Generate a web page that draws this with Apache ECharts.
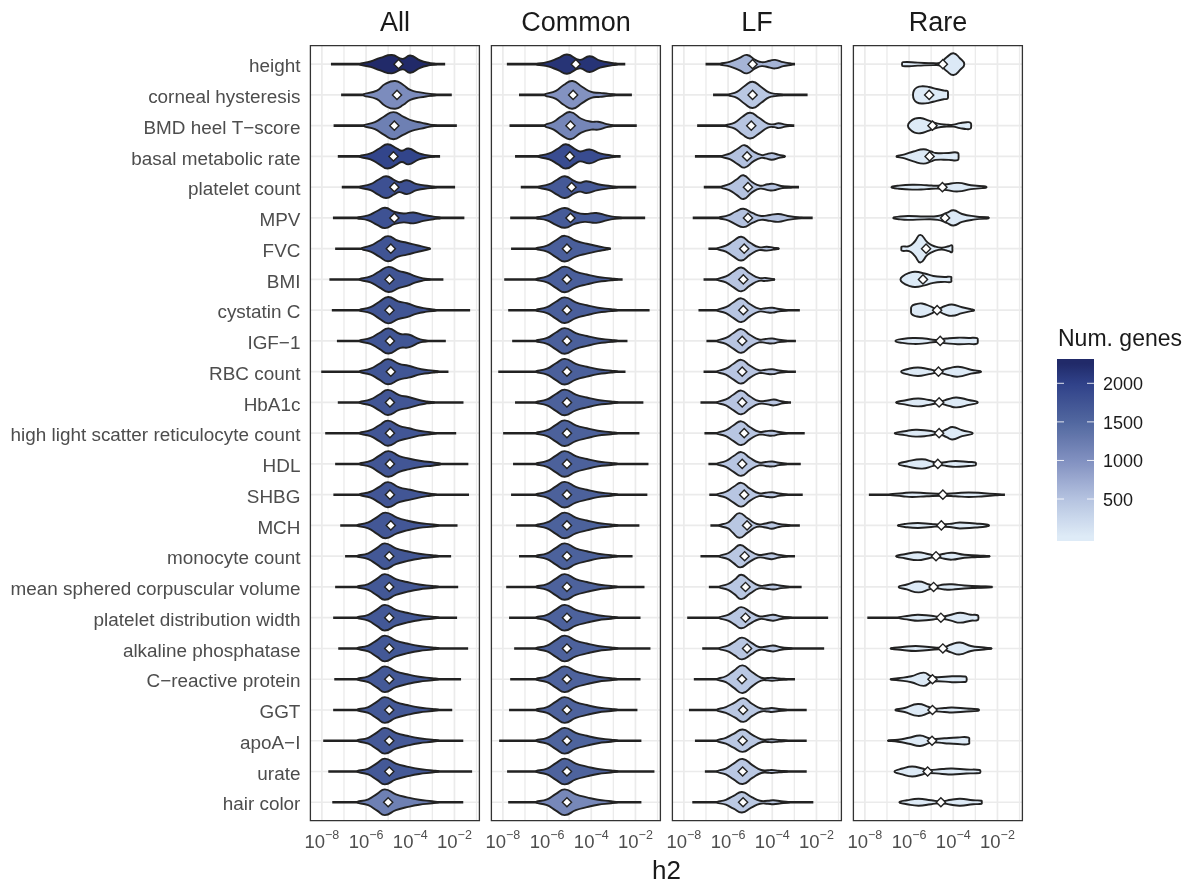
<!DOCTYPE html>
<html><head><meta charset="utf-8">
<script src="https://cdn.jsdelivr.net/npm/echarts@6.0.0/dist/echarts.min.js"></script>
<style>html,body{margin:0;padding:0;background:#fff}#c{width:1190px;height:881px}</style>
</head><body><div id="c"></div>
<script>
// ---------------- DATA ----------------
const traits = ["height","corneal hysteresis","BMD heel T\u2212score","basal metabolic rate","platelet count","MPV","FVC","BMI","cystatin C","IGF\u22121","RBC count","HbA1c","high light scatter reticulocyte count","HDL","SHBG","MCH","monocyte count","mean sphered corpuscular volume","platelet distribution width","alkaline phosphatase","C\u2212reactive protein","GGT","apoA\u2212I","urate","hair color"];
const facetNames = ["All","Common","LF","Rare"];
const xTickValues = [-8,-6,-4,-2];        // log10(h2) major breaks
const xMinorValues = [-7,-5,-3,-1];       // minor breaks
const legendTickValues = [500,1000,1500,2000];

// number of genes per violin (fill colour)
const genesAll    = [2257,1050,1200,1950,1800,1780,1750,1740,1740,1730,1730,1720,1720,1720,1720,1710,1700,1700,1700,1700,1690,1690,1680,1690,1200];
const genesCommon = [2150,980,1120,1850,1680,1660,1600,1600,1600,1590,1590,1580,1580,1580,1580,1570,1570,1560,1560,1560,1550,1550,1540,1550,1100];
const genesLF     = [650,440,480,520,500,510,480,470,480,470,470,470,460,460,460,450,450,450,450,450,440,440,440,440,430];
const genesRare   = [40,14,20,25,30,35,16,20,25,30,30,30,30,30,30,30,30,30,30,30,30,30,30,30,30];

// violins: [tail min log10 h2, tail max log10 h2, marker log10 h2, [log10 h2, density, ...]]
const violinsAll = [
 [-7.59,-2.42,-4.53,[-6.3,0,-5.8,2.7,-5.36,6.3,-4.83,9.3,-4.35,5.3,-4.0,8.7,-3.55,3.7,-3.1,1,-2.8,0]],
 [-7.13,-2.12,-4.6,[-6.12,0,-5.51,4.3,-5.14,11,-4.68,14,-4.31,10,-4.0,5,-3.55,2.5,-3.1,1,-2.8,0]],
 [-7.47,-1.89,-4.72,[-6.1,0,-5.6,3.5,-5.2,9,-4.76,13.7,-4.3,9,-3.9,5,-3.5,3,-3.1,1,-2.8,0]],
 [-7.28,-2.65,-4.76,[-6.3,0,-5.8,3,-5.4,8,-5.03,12.3,-4.6,8,-4.38,5.7,-4.08,8,-3.6,3,-3.18,1,-2.9,0]],
 [-7.1,-1.97,-4.72,[-6.3,0,-5.8,3,-5.45,7.5,-5.09,11,-4.7,7,-4.49,5,-4.15,7,-3.7,3,-3.1,1,-2.8,0]],
 [-7.5,-1.55,-4.72,[-6.4,0,-5.9,2.5,-5.5,7,-5.14,10.3,-4.7,6,-4.3,4.5,-3.85,5.5,-3.4,3,-2.95,1.3,-2.6,0]],
 [-7.4,-3.1,-4.88,[-6.2,0,-5.8,3,-5.4,8,-5.01,12.7,-4.55,8,-4.15,6,-3.7,3.5,-3.2,0.8,-3.1,0]],
 [-7.66,-2.5,-4.94,[-6.3,0,-5.8,3,-5.4,8,-4.98,12.7,-4.5,8.5,-4.15,6.5,-3.75,3,-3.4,1,-3.1,0]],
 [-7.55,-1.29,-4.94,[-6.3,0,-5.8,3,-5.4,8.5,-5.0,13.3,-4.55,9,-4.15,7,-3.7,3.5,-3.25,1.5,-2.8,0]],
 [-7.32,-2.39,-4.92,[-6.3,0,-5.8,3,-5.4,8,-4.98,12.7,-4.45,7,-4.08,6.5,-3.55,1.5,-3.2,0]],
 [-8.03,-2.27,-4.88,[-6.3,0,-5.8,3,-5.4,8,-5.01,12.7,-4.5,8,-4.08,6,-3.5,2.5,-2.95,1,-2.7,0]],
 [-7.28,-1.59,-4.92,[-6.3,0,-5.8,3,-5.4,8,-5.01,12.7,-4.5,7.5,-4.08,5.5,-3.6,2.5,-3.25,1,-2.9,0]],
 [-7.85,-1.92,-4.92,[-6.3,0,-5.8,3,-5.4,8,-5.01,12.7,-4.5,7.5,-4.05,5,-3.6,2.5,-3.1,1,-2.8,0]],
 [-7.4,-1.37,-4.92,[-6.3,0,-5.8,3,-5.4,8.5,-4.98,13,-4.5,8,-4.08,5.5,-3.5,3,-2.95,1.5,-2.6,0]],
 [-7.48,-1.34,-4.92,[-6.3,0,-5.8,3,-5.4,8,-5.01,12.7,-4.5,7.5,-4.0,5,-3.5,2.5,-3.1,1,-2.8,0]],
 [-7.17,-1.86,-4.88,[-6.4,0,-5.9,3,-5.5,8.5,-5.12,13,-4.6,8,-4.15,5,-3.6,2.5,-2.95,1,-2.7,0]],
 [-6.95,-2.15,-4.95,[-6.4,0,-5.9,3,-5.5,8.5,-5.15,13,-4.65,8,-4.15,5,-3.6,2.5,-3.0,1,-2.7,0]],
 [-7.4,-1.83,-4.95,[-6.4,0,-5.9,3,-5.5,8.5,-5.15,13,-4.65,8,-4.15,5,-3.6,2.5,-3.0,1,-2.7,0]],
 [-7.49,-1.88,-4.95,[-6.4,0,-5.9,3,-5.5,8.5,-5.15,13,-4.65,8,-4.15,5,-3.6,2.5,-3.0,1,-2.7,0]],
 [-7.26,-1.38,-4.95,[-6.4,0,-5.9,3,-5.5,8.5,-5.15,13,-4.65,8,-4.15,5,-3.6,2.5,-3.0,1,-2.7,0]],
 [-7.44,-1.7,-4.95,[-6.4,0,-5.9,3,-5.5,8.5,-5.15,13,-4.65,8,-4.15,5,-3.6,2.5,-3.0,1,-2.7,0]],
 [-7.49,-2.1,-4.95,[-6.4,0,-5.9,3,-5.5,8.5,-5.15,13,-4.65,8,-4.15,5,-3.6,2.5,-3.0,1,-2.7,0]],
 [-7.94,-1.6,-4.95,[-6.4,0,-5.9,3,-5.5,8.5,-5.15,13,-4.65,8,-4.15,5,-3.6,2.5,-3.0,1,-2.7,0]],
 [-7.71,-1.2,-4.95,[-6.4,0,-5.9,3,-5.5,8.5,-5.15,13,-4.65,8,-4.15,5,-3.6,2.5,-3.0,1,-2.7,0]],
 [-7.53,-1.6,-5.0,[-6.4,0,-5.9,3,-5.5,8.5,-5.15,13,-4.65,8,-4.15,5,-3.6,2.5,-3.0,1,-2.7,0]]
];
const violinsCommon = [
 [-7.82,-2.46,-4.7,[-6.5,0,-6.0,2,-5.5,6,-5.09,9.7,-4.52,4.3,-4.07,8,-3.6,3.5,-3.02,1,-2.8,0]],
 [-7.27,-2.16,-4.82,[-6.1,0,-5.6,4,-5.25,10,-4.85,14,-4.4,8,-4.0,3,-3.6,2,-3.2,1,-2.9,0]],
 [-7.7,-1.94,-4.94,[-6.1,0,-5.7,4,-5.35,9.5,-4.94,13.7,-4.45,7,-4.0,4,-3.69,4,-3.3,1.5,-3.0,0]],
 [-7.45,-2.67,-4.97,[-6.4,0,-5.9,3,-5.5,8,-5.15,12.3,-4.7,7,-4.5,5,-4.07,7,-3.6,3,-3.1,1,-2.9,0]],
 [-7.19,-1.96,-4.89,[-6.4,0,-5.9,3,-5.55,7.5,-5.19,11,-4.75,6,-4.5,4.5,-4.22,6,-3.7,3,-3.1,1,-2.8,0]],
 [-7.67,-1.56,-4.94,[-6.5,0,-6.0,2.5,-5.6,7,-5.19,10,-4.75,6,-4.3,4,-3.77,5,-3.3,2.5,-2.95,1,-2.6,0]],
 [-7.63,-3.12,-5.1,[-6.5,0,-6.0,3,-5.6,8.5,-5.2,13,-4.7,8,-4.2,5,-3.7,2.5,-3.3,0.8,-3.15,0]],
 [-7.94,-2.58,-5.1,[-6.5,0,-6.0,3,-5.6,8.5,-5.2,13,-4.7,8,-4.2,5,-3.7,2.5,-3.1,1,-2.8,0]],
 [-7.76,-1.36,-5.1,[-6.5,0,-6.0,3,-5.6,8.5,-5.2,13,-4.7,8,-4.2,5,-3.7,2.5,-3.1,1,-2.8,0]],
 [-7.58,-2.36,-5.1,[-6.5,0,-6.0,3,-5.6,8.5,-5.2,13,-4.7,8,-4.2,5,-3.7,2.5,-3.1,1,-2.8,0]],
 [-8.21,-2.45,-5.1,[-6.5,0,-6.0,3,-5.6,8.5,-5.2,13,-4.7,8,-4.2,5,-3.7,2.5,-3.1,1,-2.8,0]],
 [-7.45,-1.64,-5.1,[-6.5,0,-6.0,3,-5.6,8.5,-5.2,13,-4.7,8,-4.2,5,-3.7,2.5,-3.1,1,-2.8,0]],
 [-7.99,-1.82,-5.1,[-6.5,0,-6.0,3,-5.6,8.5,-5.2,13,-4.7,8,-4.2,5,-3.7,2.5,-3.1,1,-2.8,0]],
 [-7.54,-1.41,-5.1,[-6.5,0,-6.0,3,-5.6,8.5,-5.2,13,-4.7,8,-4.2,5,-3.7,2.5,-3.1,1,-2.8,0]],
 [-7.63,-1.46,-5.1,[-6.5,0,-6.0,3,-5.6,8.5,-5.2,13,-4.7,8,-4.2,5,-3.7,2.5,-3.1,1,-2.8,0]],
 [-7.4,-1.82,-5.1,[-6.5,0,-6.0,3,-5.6,8.5,-5.2,13,-4.7,8,-4.2,5,-3.7,2.5,-3.1,1,-2.8,0]],
 [-7.27,-2.13,-5.1,[-6.5,0,-6.0,3,-5.6,8.5,-5.2,13,-4.7,8,-4.2,5,-3.7,2.5,-3.1,1,-2.8,0]],
 [-7.85,-1.59,-5.1,[-6.5,0,-6.0,3,-5.6,8.5,-5.2,13,-4.7,8,-4.2,5,-3.7,2.5,-3.1,1,-2.8,0]],
 [-7.72,-1.77,-5.1,[-6.5,0,-6.0,3,-5.6,8.5,-5.2,13,-4.7,8,-4.2,5,-3.7,2.5,-3.1,1,-2.8,0]],
 [-7.49,-1.32,-5.1,[-6.5,0,-6.0,3,-5.6,8.5,-5.2,13,-4.7,8,-4.2,5,-3.7,2.5,-3.1,1,-2.8,0]],
 [-7.67,-1.77,-5.1,[-6.5,0,-6.0,3,-5.6,8.5,-5.2,13,-4.7,8,-4.2,5,-3.7,2.5,-3.1,1,-2.8,0]],
 [-7.72,-1.91,-5.1,[-6.5,0,-6.0,3,-5.6,8.5,-5.2,13,-4.7,8,-4.2,5,-3.7,2.5,-3.1,1,-2.8,0]],
 [-8.17,-1.73,-5.1,[-6.5,0,-6.0,3,-5.6,8.5,-5.2,13,-4.7,8,-4.2,5,-3.7,2.5,-3.1,1,-2.8,0]],
 [-7.81,-1.14,-5.1,[-6.5,0,-6.0,3,-5.6,8.5,-5.2,13,-4.7,8,-4.2,5,-3.7,2.5,-3.1,1,-2.8,0]],
 [-7.76,-1.73,-5.1,[-6.5,0,-6.0,3,-5.6,8.5,-5.2,13,-4.7,8,-4.2,5,-3.7,2.5,-3.1,1,-2.8,0]]
];
const violinsLF = [
 [-7.02,-2.97,-4.89,[-6.35,0,-5.9,2.5,-5.5,6,-5.14,9.3,-4.75,4,-4.47,2,-4.1,3.5,-3.87,4.3,-3.5,2,-3.1,0]],
 [-6.68,-2.4,-4.89,[-5.97,0,-5.6,3,-5.25,9,-4.89,13.3,-4.5,8,-4.15,2.5,-3.8,1,-3.5,0]],
 [-7.4,-3.0,-4.95,[-6.1,0,-5.7,3,-5.35,9,-5.0,13,-4.6,8,-4.2,2,-3.9,1.5,-3.72,2.5,-3.4,1,-3.1,0]],
 [-7.5,-3.42,-5.14,[-6.3,0,-5.9,3,-5.55,8,-5.25,11.3,-4.85,5,-4.5,1.5,-4.3,2,-4.02,3.3,-3.7,1.5,-3.42,0]],
 [-7.1,-2.79,-5.1,[-6.3,0,-5.95,3,-5.6,8,-5.3,12,-4.9,5,-4.55,1.5,-4.2,3,-3.95,3.3,-3.6,1.2,-3.1,0]],
 [-7.6,-2.17,-5.1,[-6.4,0,-6.0,2.5,-5.65,6.5,-5.3,9.3,-4.9,5,-4.5,2,-4.1,3,-3.72,4,-3.3,2,-2.82,0.5,-2.6,0]],
 [-6.89,-3.7,-5.27,[-6.5,0,-6.1,3,-5.75,8,-5.4,12,-5.0,6,-4.6,1.5,-4.25,2,-3.95,1,-3.7,0]],
 [-7.11,-3.88,-5.31,[-6.5,0,-6.1,3,-5.75,8,-5.4,12,-5.0,6,-4.6,1.5,-4.3,1.5,-3.9,0]],
 [-7.34,-2.75,-5.31,[-6.5,0,-6.1,3,-5.75,8,-5.4,12,-5.0,6,-4.6,1.5,-4.3,2,-4.0,2.5,-3.7,1.2,-3.3,0]],
 [-6.98,-2.93,-5.36,[-6.5,0,-6.1,3,-5.75,8,-5.4,12,-5.0,6,-4.6,1.5,-4.3,2,-4.0,2.5,-3.7,1.2,-3.3,0]],
 [-7.11,-2.93,-5.36,[-6.5,0,-6.1,3,-5.75,8,-5.4,12,-5.0,6,-4.6,1.5,-4.3,2,-4.0,2.5,-3.7,1.2,-3.3,0]],
 [-7.25,-3.15,-5.36,[-6.5,0,-6.1,3,-5.75,8,-5.4,12,-5.0,6,-4.6,1.5,-4.2,2,-3.92,3,-3.6,1.2,-3.3,0]],
 [-7.07,-2.53,-5.27,[-6.5,0,-6.1,3,-5.75,8,-5.4,12,-5.0,6,-4.6,1.5,-4.3,2,-4.0,2.5,-3.7,1.2,-3.3,0]],
 [-6.89,-2.71,-5.36,[-6.5,0,-6.1,3,-5.75,8,-5.4,12,-5.0,6,-4.6,1.5,-4.3,2,-4.0,2.5,-3.7,1.2,-3.3,0]],
 [-6.85,-2.62,-5.27,[-6.5,0,-6.1,3,-5.75,8,-5.4,12,-5.0,6,-4.6,1.5,-4.3,2,-4.0,2.5,-3.7,1.2,-3.3,0]],
 [-6.8,-2.75,-5.14,[-6.4,0,-6.0,3,-5.8,7,-5.49,12.5,-5.1,7,-4.7,1.5,-4.3,2,-4.02,3.3,-3.7,1.5,-3.2,0]],
 [-7.25,-2.97,-5.25,[-6.4,0,-6.0,3,-5.75,7,-5.45,11.3,-5.05,6,-4.65,1.5,-4.3,2,-4.02,3,-3.7,1.3,-3.3,0]],
 [-6.87,-2.67,-5.21,[-6.4,0,-6.0,3,-5.7,7.5,-5.4,12.3,-5.0,6.5,-4.6,1.5,-4.25,1.8,-3.95,2.5,-3.6,1.2,-3.2,0]],
 [-7.85,-1.47,-5.21,[-6.4,0,-6.0,3,-5.7,7,-5.4,10.7,-5.0,6,-4.6,1.5,-4.25,2,-3.95,3,-3.6,1.3,-3.1,0]],
 [-7.17,-1.65,-5.14,[-6.4,0,-6.0,3,-5.7,7,-5.37,11,-4.95,6,-4.6,1.5,-4.25,2,-3.95,3,-3.6,1.3,-3.1,0]],
 [-7.55,-2.97,-5.37,[-6.5,0,-6.1,3,-5.75,8.5,-5.34,14,-4.9,7,-4.5,1.5,-4.2,1.2,-4.0,1.5,-3.7,0.8,-3.3,0]],
 [-7.77,-2.44,-5.32,[-6.5,0,-6.1,3,-5.7,7.5,-5.3,12,-4.9,6,-4.5,1.5,-4.2,1.5,-4.02,2,-3.7,1,-3.3,0]],
 [-7.5,-2.44,-5.34,[-6.5,0,-6.1,3,-5.75,7,-5.34,11.3,-4.9,6,-4.5,1.5,-4.2,1.2,-4.02,1.5,-3.7,0.8,-3.3,0]],
 [-7.05,-2.44,-5.34,[-6.5,0,-6.1,3,-5.75,8,-5.34,12.7,-4.9,6.5,-4.5,1.5,-4.2,1.2,-4.02,1.5,-3.7,0.8,-3.3,0]],
 [-7.62,-2.14,-5.32,[-6.5,0,-6.1,2.5,-5.75,6.5,-5.37,10.3,-4.95,5.5,-4.55,1.5,-4.2,1.5,-3.95,2,-3.6,1,-3.2,0]]
];
const violinsRare = [
 [-6.32,-3.5,-4.47,[-6.32,0,-6.28,2,-5.6,1.5,-4.9,1,-4.59,1.5,-4.3,7,-3.99,11,-3.7,6,-3.5,0]],
 [-5.82,-4.24,-5.09,[-5.82,0,-5.78,4.5,-5.65,7.5,-5.41,8.7,-5.1,8,-4.75,6,-4.4,4.3,-4.26,3.8,-4.24,0]],
 [-6.05,-3.19,-4.94,[-6.05,0,-5.95,4,-5.75,7,-5.49,7.7,-5.1,5,-4.7,2,-4.3,1,-4.0,1,-3.7,2.5,-3.39,3.5,-3.22,3,-3.19,0]],
 [-6.57,-3.76,-5.07,[-6.57,0,-6.2,2,-5.8,5,-5.34,7.3,-5.0,5,-4.8,3.5,-4.2,3.5,-3.8,3.7,-3.76,0]],
 [-6.8,-2.49,-4.49,[-6.8,0,-6.5,1.5,-5.86,2.5,-5.2,2,-4.7,1.5,-4.3,3,-3.77,4.3,-3.2,2,-2.7,1,-2.49,0]],
 [-6.72,-2.38,-4.37,[-6.72,0,-6.4,1.5,-6.0,2,-5.3,1.5,-4.7,2,-4.3,5,-3.99,7.7,-3.6,4,-3.0,1.5,-2.38,0]],
 [-6.35,-4.04,-5.23,[-6.35,0,-6.33,2,-6.0,2.5,-5.75,7,-5.49,14,-5.15,6,-4.8,2,-4.51,1,-4.2,2.5,-4.06,3.5,-4.04,0]],
 [-6.39,-4.09,-5.37,[-6.39,0,-6.3,3,-6.0,6.5,-5.72,7.7,-5.3,6,-4.9,3.5,-4.4,2.5,-4.1,2.5,-4.09,0]],
 [-5.91,-3.05,-4.73,[-5.91,0,-5.88,4,-5.7,6,-5.41,6.7,-5.0,3.5,-4.73,1,-4.4,4,-4.06,5.7,-3.6,3,-3.2,1,-3.05,0]],
 [-6.62,-2.89,-4.59,[-6.62,0,-6.3,2,-5.8,3,-5.3,2.5,-4.8,1,-4.3,2.5,-3.8,3.3,-3.3,3,-2.92,2.8,-2.89,0]],
 [-6.36,-2.74,-4.67,[-6.36,0,-6.1,2.5,-5.6,4.3,-5.1,2.5,-4.67,1,-4.2,3.5,-3.77,5,-3.2,2,-2.74,0]],
 [-6.59,-2.89,-4.64,[-6.59,0,-6.2,2,-5.6,4,-5.1,2.5,-4.64,1,-4.2,3.5,-3.85,5,-3.3,2.5,-2.89,0]],
 [-6.65,-3.12,-4.64,[-6.65,0,-6.2,2,-5.7,3.5,-5.1,2.5,-4.64,1,-4.3,4,-4.04,6.3,-3.6,3,-3.12,0]],
 [-6.47,-2.97,-4.7,[-6.47,0,-6.1,2.5,-5.41,4.7,-4.9,2,-4.7,1,-4.3,2,-3.9,3,-3.3,2,-3.0,1.5,-2.97,0]],
 [-7.82,-1.66,-4.47,[-6.9,0,-6.3,1.5,-5.86,2.3,-5.2,1.5,-4.47,1,-3.9,1.5,-3.3,2.3,-2.6,1.5,-2.0,0.5,-1.8,0]],
 [-6.51,-2.38,-4.54,[-6.51,0,-6.2,1.5,-5.6,2.5,-5.0,1.5,-4.54,1,-4.0,2,-3.7,3,-3.0,2,-2.5,1,-2.38,0]],
 [-6.59,-2.34,-4.78,[-6.59,0,-6.2,2,-5.6,4,-5.1,2,-4.78,1,-4.4,2.5,-4.06,3.5,-3.5,1.5,-2.9,0.8,-2.34,0]],
 [-6.47,-2.23,-4.89,[-6.47,0,-6.1,2.5,-5.57,5.5,-5.1,2.5,-4.89,1,-4.4,2.5,-4.06,2.7,-3.5,1.5,-2.9,0.8,-2.23,0]],
 [-7.89,-2.86,-4.56,[-6.5,0,-6.0,2,-5.6,3,-5.0,2,-4.56,1,-4.1,3,-3.69,5,-3.2,3,-2.9,2.5,-2.86,0]],
 [-6.84,-2.26,-4.47,[-6.84,0,-6.3,1.5,-5.7,2.5,-5.1,1.5,-4.47,1,-4.1,4,-3.69,6,-3.2,2.5,-2.6,1,-2.26,0]],
 [-6.84,-3.39,-4.94,[-6.84,0,-6.5,1,-5.9,3,-5.34,6.7,-5.0,3,-4.7,2,-4.06,3,-3.5,2.8,-3.42,2.5,-3.39,0]],
 [-6.62,-2.83,-4.94,[-6.62,0,-6.2,2,-5.6,6,-5.1,3,-4.94,1.5,-4.4,2,-4.06,2.5,-3.4,1.5,-2.9,0.8,-2.83,0]],
 [-6.96,-3.28,-4.96,[-6.96,0,-6.5,1,-6.0,3,-5.5,5.3,-5.1,2.5,-4.96,1.5,-4.4,2.5,-3.8,3.3,-3.3,3.2,-3.28,0]],
 [-6.66,-2.77,-5.16,[-6.66,0,-6.3,3,-5.86,5,-5.4,3,-5.16,1.5,-4.5,2.5,-4.06,3,-3.4,2,-2.8,1.5,-2.77,0]],
 [-6.44,-2.71,-4.56,[-6.44,0,-6.1,2,-5.57,3.5,-5.0,2,-4.56,1,-4.1,2.5,-3.69,3.5,-3.1,2,-2.72,1.5,-2.71,0]]
];

// ---------------- LAYOUT / STYLE ----------------
const FONT = "'Liberation Sans', Arial, Helvetica, sans-serif";
const PANEL_LEFT = [310.4, 491.4, 672.4, 853.4];
const PANEL_W = 169, PANEL_TOP = 45.7, PANEL_H = 775;
const XMIN = -8.52, XMAX = -0.87;
const YMIN = -0.6, YMAX = traits.length - 1 + 0.6;
const DMAX = 14;           // density giving a half-width of 0.45 rows
const OUT = '#222222';
// colour ramp (genes -> colour), style stops
const RAMP = [[14,'#deebf7'],[500,'#b5c3e0'],[1000,'#8190c0'],[1500,'#51679f'],[2000,'#2f4189'],[2257,'#212a69']];
function colorFor(g){
  if(g<=RAMP[0][0]) return RAMP[0][1];
  for(let j=1;j<RAMP.length;j++){ if(g<=RAMP[j][0]){const t=(g-RAMP[j-1][0])/(RAMP[j][0]-RAMP[j-1][0]);return echarts.color.lerp(t,[RAMP[j-1][1],RAMP[j][1]]);} }
  return RAMP[RAMP.length-1][1];
}

const facetViolins=[violinsAll,violinsCommon,violinsLF,violinsRare];
const facetGenes=[genesAll,genesCommon,genesLF,genesRare];

function gridRender(params, api){
  const ch=[];
  const yT=api.coord([XMIN,YMIN])[1], yB=api.coord([XMIN,YMAX])[1];
  const xL=api.coord([XMIN,0])[0], xR=api.coord([XMAX,0])[0];
  xMinorValues.forEach(v=>{const x=api.coord([v,0])[0];ch.push({type:'line',shape:{x1:x,y1:yT,x2:x,y2:yB},style:{stroke:'#ebebeb',lineWidth:1.3}});});
  xTickValues.forEach(v=>{const x=api.coord([v,0])[0];ch.push({type:'line',shape:{x1:x,y1:yT,x2:x,y2:yB},style:{stroke:'#ebebeb',lineWidth:1.7}});});
  traits.forEach((t,i)=>{const y=api.coord([XMIN,i])[1];ch.push({type:'line',shape:{x1:xL,y1:y,x2:xR,y2:y},style:{stroke:'#ebebeb',lineWidth:1.7}});});
  ch.push({type:'rect',shape:{x:xL,y:yT,width:xR-xL,height:yB-yT},style:{fill:null,stroke:'#333333',lineWidth:1.3}});
  return {type:'group',children:ch};
}
function violinRender(violins){
  return function(params, api){
    const i=api.value(0), v=violins[i];
    const lo=v[0], hi=v[1], mark=v[2], k=v[3];
    const c=api.coord([mark,i]);
    const rowPx=Math.abs(api.coord([mark,i+1])[1]-c[1]);
    const s=0.45*rowPx/DMAX;
    const top=[], bot=[];
    const n=k.length/2;
    for(let j=0;j<n;j++){const p=api.coord([k[2*j],i]);const w=k[2*j+1]*s;
      top.push([p[0],p[1]-w]);
      if(!((j===0||j===n-1)&&w===0)) bot.push([p[0],p[1]+w]);}
    const pts=top.concat(bot.reverse());
    const a=api.coord([lo,i]), b=api.coord([hi,i]);
    const r=4.6;
    return {type:'group',children:[
      {type:'line',shape:{x1:a[0],y1:a[1],x2:b[0],y2:b[1]},style:{stroke:OUT,lineWidth:2.6}},
      {type:'polygon',shape:{points:pts,smooth:0.5},style:{fill:colorFor(api.value(1)),stroke:OUT,lineWidth:1.9,lineJoin:'round'}},
      {type:'polygon',shape:{points:[[c[0]-r,c[1]],[c[0],c[1]-r],[c[0]+r,c[1]],[c[0],c[1]+r]]},style:{fill:'#ffffff',stroke:OUT,lineWidth:1.4}}
    ]};
  };
}

// legend bar scale (bar spans slightly beyond data range, as ggplot's binned bar)
const LEG_MIN = -44, LEG_MAX = 2315;
function legendRender(params, api){
  const p0=api.coord([0,LEG_MAX]), p1=api.coord([1,LEG_MIN]);
  const stops=[];
  for(let j=0;j<=40;j++){const v=LEG_MAX-(LEG_MAX-LEG_MIN)*j/40;stops.push({offset:j/40,color:colorFor(v)});}
  const ch=[{type:'rect',shape:{x:p0[0],y:p0[1],width:p1[0]-p0[0],height:p1[1]-p0[1]},
    style:{fill:new echarts.graphic.LinearGradient(0,0,0,1,stops)}}];
  legendTickValues.forEach(v=>{const y=api.coord([0,v])[1];
    ch.push({type:'line',shape:{x1:p0[0],y1:y,x2:p0[0]+7,y2:y},style:{stroke:'rgba(255,255,255,0.85)',lineWidth:1}});
    ch.push({type:'line',shape:{x1:p1[0]-7,y1:y,x2:p1[0],y2:y},style:{stroke:'rgba(255,255,255,0.85)',lineWidth:1}});});
  return {type:'group',children:ch};
}

const grids=[], xAxes=[], yAxes=[], series=[], graphics=[];
facetNames.forEach((name,f)=>{
  grids.push({left:PANEL_LEFT[f],top:PANEL_TOP,width:PANEL_W,height:PANEL_H,containLabel:false});
  xAxes.push({type:'value',gridIndex:f,min:XMIN,max:XMAX,axisLine:{show:false},axisTick:{show:false},splitLine:{show:false},
    axisLabel:{customValues:xTickValues,margin:8,color:'#4d4d4d',fontFamily:FONT,
      formatter:v=>'{b|10}{s|\u2212'+(-v)+'}',
      rich:{b:{fontSize:18.5,lineHeight:24,verticalAlign:'bottom',color:'#4d4d4d',fontFamily:FONT},
            s:{fontSize:12.5,lineHeight:11,verticalAlign:'top',color:'#4d4d4d',fontFamily:FONT}}}});
  yAxes.push({type:'value',gridIndex:f,min:YMIN,max:YMAX,inverse:true,axisLine:{show:false},axisTick:{show:false},splitLine:{show:false},
    axisLabel:{show:f===0,customValues:traits.map((t,i)=>i),formatter:v=>'{t|'+traits[Math.round(v)]+'}',margin:10,
      rich:{t:{fontSize:18.9,color:'#4d4d4d',fontFamily:FONT,padding:[6,0,0,0]}}}});
  series.push({type:'custom',xAxisIndex:f,yAxisIndex:f,data:[[0]],renderItem:gridRender,silent:true,z:1});
  series.push({type:'custom',xAxisIndex:f,yAxisIndex:f,data:facetGenes[f].map((g,i)=>[i,g]),renderItem:violinRender(facetViolins[f]),silent:true,z:3});
  graphics.push({type:'text',x:PANEL_LEFT[f]+PANEL_W/2,y:24,style:{text:name,font:'27px '+FONT,fill:'#1a1a1a',textAlign:'center',textVerticalAlign:'middle'}});
});
// legend grid
grids.push({left:1057,top:359,width:37,height:182});
xAxes.push({type:'value',gridIndex:4,min:0,max:1,show:false});
yAxes.push({type:'value',gridIndex:4,min:LEG_MIN,max:LEG_MAX,position:'right',axisLine:{show:false},axisTick:{show:false},splitLine:{show:false},
  axisLabel:{customValues:legendTickValues,formatter:v=>'{t|'+v+'}',margin:9,
    rich:{t:{fontSize:18,color:'#1a1a1a',fontFamily:FONT,padding:[4,0,0,0]}}}});
series.push({type:'custom',xAxisIndex:4,yAxisIndex:4,data:[[0]],renderItem:legendRender,silent:true});
graphics.push({type:'text',x:1058,y:340,style:{text:'Num. genes',font:'23px '+FONT,fill:'#1a1a1a',textAlign:'left',textVerticalAlign:'middle'}});
graphics.push({type:'text',x:(PANEL_LEFT[0]+PANEL_LEFT[3]+PANEL_W)/2,y:872,style:{text:'h2',font:'26px '+FONT,fill:'#1a1a1a',textAlign:'center',textVerticalAlign:'middle'}});

const chart=echarts.init(document.getElementById('c'),null,{renderer:'canvas'});
chart.setOption({animation:false,backgroundColor:'#ffffff',grid:grids,xAxis:xAxes,yAxis:yAxes,series:series,graphic:graphics});
</script></body></html>
